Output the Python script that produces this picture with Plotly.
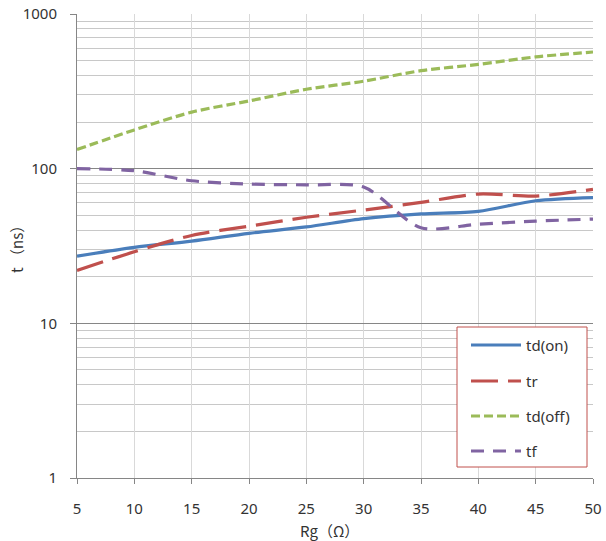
import plotly.graph_objects as go

rg = [5, 10, 15, 20, 25, 30, 35, 40, 45, 50]
td_on = [27.2, 31.0, 34.0, 38.2, 42.0, 47.5, 51.0, 53.0, 62.0, 65.0]
tr = [22.0, 29.0, 37.0, 42.5, 48.5, 54.0, 60.5, 68.5, 66.5, 73.5]
td_off = [133, 178, 232, 274, 326, 368, 430, 472, 528, 568]
tf = [100, 97, 83.5, 79.5, 78.5, 76.0, 41.5, 43.8, 45.8, 47.2]

x_ticks = [5, 10, 15, 20, 25, 30, 35, 40, 45, 50]
y_major = [1, 10, 100, 1000]
y_labels = ["1", "10", "100", "1000"]
y_minor = [m * d for d in (1, 10, 100) for m in range(2, 10)]

series = [
    ("td(on)", td_on, "#4A7EBB", "solid"),
    ("tr", tr, "#C0504D", "27px,10px"),
    ("td(off)", td_off, "#9BBB59", "9px,4px"),
    ("tf", tf, "#8064A2", "13px,9px"),
]

# plot area in pixels (for the legend box placement)
L, R, T, B = 77, 593, 14, 478
W, H = R - L, B - T


def px(xp):
    return (xp - L) / W


def py(yp):
    return (B - yp) / H


fig = go.Figure()
for i, (name, vals, col, dash) in enumerate(series):
    fig.add_trace(go.Scatter(
        x=rg, y=vals, name=name, mode="lines",
        line=dict(color=col, width=3.2, dash=dash, shape="spline", smoothing=0.8),
        showlegend=False,
    ))

font = "Noto Sans, DejaVu Sans, sans-serif"

shapes = [dict(type="rect", xref="paper", yref="paper",
               x0=px(457), x1=px(587), y0=py(467), y1=py(327),
               line=dict(color="#C0504D", width=1), fillcolor="white", layer="above")]
annotations = []
leg_y = [345, 381, 416, 451]
for (name, vals, col, dash), yy in zip(series, leg_y):
    shapes.append(dict(type="line", xref="paper", yref="paper",
                       x0=px(471), x1=px(521), y0=py(yy), y1=py(yy),
                       line=dict(color=col, width=3.2, dash=dash), layer="above"))
    annotations.append(dict(text=name, xref="paper", yref="paper",
                            x=px(524), y=py(yy), xanchor="left", yanchor="middle",
                            showarrow=False,
                            font=dict(size=15, color="#333333", family=font)))

annotations += [
    dict(text="Rg（Ω）", xref="paper", yref="paper", x=0.49, y=-0.0,
         yshift=-52, xanchor="center", yanchor="middle", showarrow=False,
         font=dict(size=15, color="#333333", family="Noto Sans CJK SC, " + font)),
    dict(text="t （ns）", xref="paper", yref="paper", x=0, y=0.5,
         xshift=-61, xanchor="center", yanchor="middle", textangle=-90,
         showarrow=False,
         font=dict(size=15, color="#333333", family="Noto Sans CJK SC, " + font)),
]

fig.update_layout(
    width=606, height=541,
    margin=dict(l=L, r=606 - R, t=T, b=541 - B, autoexpand=False),
    paper_bgcolor="white", plot_bgcolor="white",
    font=dict(family=font, size=15, color="#333333"),
    showlegend=False,
    xaxis=dict(
        range=[5, 50], tickvals=x_ticks, ticktext=[str(v) for v in x_ticks],
        showgrid=True, gridcolor="#D9D9D9", gridwidth=1,
        showline=True, linecolor="#868686", linewidth=1,
        ticks="outside", ticklen=5, tickcolor="#868686",
        ticklabelstandoff=12, zeroline=False, automargin=False,
    ),
    yaxis=dict(
        type="log", range=[0, 3], tickvals=y_major, ticktext=y_labels,
        showgrid=True, gridcolor="#868686", gridwidth=1,
        showline=True, linecolor="#868686", linewidth=1,
        ticks="outside", ticklen=6, tickcolor="#868686",
        ticklabelstandoff=10, zeroline=False, automargin=False,
        minor=dict(tickvals=y_minor, showgrid=True, gridcolor="#C8C8C8",
                   gridwidth=1, ticks=""),
    ),
    shapes=shapes,
    annotations=annotations,
)

fig.write_html("out.html")
